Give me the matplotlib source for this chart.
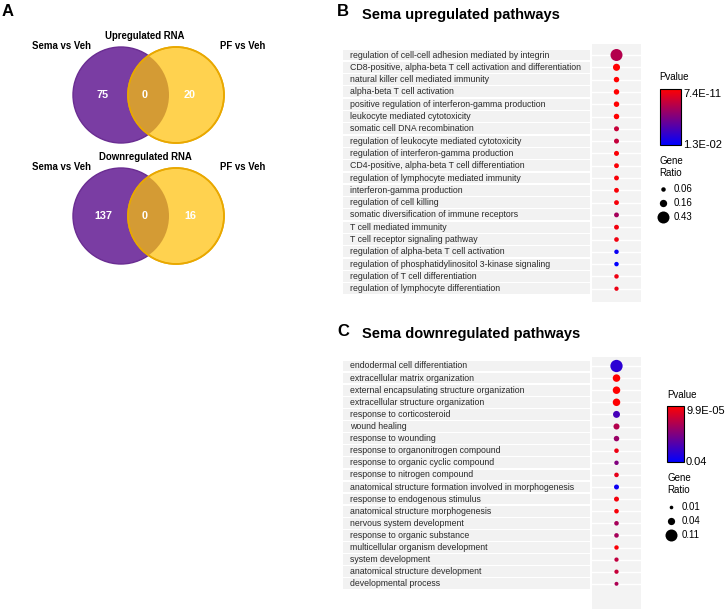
import matplotlib
matplotlib.use('Agg')
import matplotlib.pyplot as plt
from matplotlib.patches import Circle
from matplotlib.colors import LinearSegmentedColormap, Normalize
import numpy as np

plt.rcParams['font.family'] = ['Liberation Sans', 'DejaVu Sans']

# ---- data ----
venn_sets = ['Sema vs Veh', 'PF vs Veh']
up_counts = [75, 0, 20]
down_counts = [137, 0, 16]

up_terms = ['regulation of cell-cell adhesion mediated by integrin',
            'CD8-positive, alpha-beta T cell activation and differentiation',
            'natural killer cell mediated immunity',
            'alpha-beta T cell activation',
            'positive regulation of interferon-gamma production',
            'leukocyte mediated cytotoxicity',
            'somatic cell DNA recombination',
            'regulation of leukocyte mediated cytotoxicity',
            'regulation of interferon-gamma production',
            'CD4-positive, alpha-beta T cell differentiation',
            'regulation of lymphocyte mediated immunity',
            'interferon-gamma production',
            'regulation of cell killing',
            'somatic diversification of immune receptors',
            'T cell mediated immunity',
            'T cell receptor signaling pathway',
            'regulation of alpha-beta T cell activation',
            'regulation of phosphatidylinositol 3-kinase signaling',
            'regulation of T cell differentiation',
            'regulation of lymphocyte differentiation']
up_pvalue = [0.0039, 7.4e-11, 1e-5, 2e-5, 3e-5, 5e-5, 0.0029, 0.0030, 3e-4, 3e-4,
             4e-4, 4e-4, 5e-4, 0.0046, 7e-4, 8e-4, 0.0124, 0.0130, 9e-4, 1e-3]
up_ratio = [0.43, 0.15, 0.09, 0.09, 0.09, 0.09, 0.075, 0.075, 0.075, 0.07,
            0.07, 0.07, 0.07, 0.07, 0.07, 0.065, 0.06, 0.06, 0.06, 0.055]
up_pv_range = [7.4e-11, 1.3e-2]
up_pv_labels = ['7.4E-11', '1.3E-02']
up_size_legend = [0.06, 0.16, 0.43]

down_terms = ['endodermal cell differentiation',
              'extracellular matrix organization',
              'external encapsulating structure organization',
              'extracellular structure organization',
              'response to corticosteroid',
              'wound healing',
              'response to wounding',
              'response to organonitrogen compound',
              'response to organic cyclic compound',
              'response to nitrogen compound',
              'anatomical structure formation involved in morphogenesis',
              'response to endogenous stimulus',
              'anatomical structure morphogenesis',
              'nervous system development',
              'response to organic substance',
              'multicellular organism development',
              'system development',
              'anatomical structure development',
              'developmental process']
down_pvalue = [0.033, 9.9e-5, 2e-4, 3e-4, 0.029, 0.012, 0.016, 0.003, 0.020, 0.004,
               0.038, 0.002, 0.0015, 0.014, 0.014, 0.001, 0.010, 0.009, 0.013]
down_ratio = [0.115, 0.043, 0.043, 0.043, 0.037, 0.028, 0.023, 0.016, 0.015, 0.016,
              0.019, 0.019, 0.016, 0.016, 0.016, 0.015, 0.014, 0.014, 0.012]
down_pv_range = [9.9e-5, 0.04]
down_pv_labels = ['9.9E-05', '0.04']
down_size_legend = [0.01, 0.04, 0.11]

# ---- figure ----
W, H = 728, 609
fig = plt.figure(figsize=(W/100, H/100), dpi=100)

def px_axes(x0, y0, x1, y1):
	return fig.add_axes([x0/W, 1-y1/H, (x1-x0)/W, (y1-y0)/H])

ov = px_axes(0, 0, W, H)
ov.set_xlim(0, W)
ov.set_ylim(H, 0)
ov.axis('off')
ov.set_zorder(5)

cmap = LinearSegmentedColormap.from_list('pv', ['#FF0000', '#0000FF'])
MAXDOT = (12*0.72)**2

# ---- panel A: venns ----
ov.text(2, 11, 'A', fontsize=12, fontweight='bold', va='center')
purple = '#7A3DA3'
yellow = '#FFD24F'
for counts, title, cy, ty in [(up_counts, 'Upregulated RNA', 95, 36),
                              (down_counts, 'Downregulated RNA', 216, 157)]:
	c1 = Circle((121, cy), 48, fc=purple, ec='#6A2D92', lw=1.0)
	c2 = Circle((176, cy), 48, fc=yellow, ec='#E9A800', lw=1.2)
	ov.add_patch(c1)
	ov.add_patch(c2)
	lens = Circle((176, cy), 48, fc='#D49B34', ec='none')
	ov.add_patch(lens)
	lens.set_clip_path(Circle((121, cy), 48, transform=ov.transData))
	ov.add_patch(Circle((176, cy), 48, fc='none', ec='#E9A800', lw=1.2))
	ov.text(145, ty, title, fontsize=6.9, fontweight='bold', ha='center', va='center')
	ov.text(61, ty+10, venn_sets[0], fontsize=6.9, fontweight='bold', ha='center', va='center')
	ov.text(243, ty+10, venn_sets[1], fontsize=6.9, fontweight='bold', ha='center', va='center')
	for xx, n in zip([103, 145, 190], counts):
		ov.text(xx, cy, str(n), fontsize=7.8, fontweight='bold', color='white', ha='center', va='center')

# ---- dot plots ----
def dot_panel(letter, title, ly, terms, pv, ratio, prange, plabels, slegend,
              top, row0, step, bottom, leg):
	n = len(terms)
	ymin = -(row0-top)/step
	ymax = (n-1) + (bottom-(row0+step*(n-1)))/step
	ov.text(337, ly, letter, fontsize=12, fontweight='bold', va='center')
	ov.text(362, ly+3, title, fontsize=10.5, fontweight='bold', va='center')

	lab = px_axes(343, top, 590, bottom)
	lab.barh(np.arange(n), 1, height=0.88, left=0, color='#F2F2F2')
	lab.set_xlim(0, 1)
	lab.set_ylim(ymax, ymin)
	lab.axis('off')
	for i, t in enumerate(terms):
		lab.text(0.028, i, t, fontsize=6.3, color='#2A2A2A', va='center')

	dax = px_axes(592, top, 641, bottom)
	dax.set_facecolor('#F3F3F3')
	for s in dax.spines.values(): s.set_visible(False)
	dax.set_xticks([])
	dax.set_yticks(np.arange(n))
	dax.set_yticklabels([])
	dax.tick_params(length=0)
	dax.grid(axis='y', color='white', lw=1.0)
	dax.set_axisbelow(True)
	norm = Normalize(prange[0], prange[1])
	sc = dax.scatter(np.zeros(n), np.arange(n), s=np.array(ratio)/slegend[-1]*MAXDOT,
	                 c=pv, cmap=cmap, norm=norm, linewidths=0, zorder=3)
	dax.set_xlim(-1, 1)
	dax.set_ylim(ymax, ymin)

	lx, pty, cb0, cb1, cbx0, cbx1, gy, sy = leg
	ov.text(lx, pty, 'Pvalue', fontsize=7, va='center')
	cax = px_axes(cbx0, cb0, cbx1, cb1)
	cb = fig.colorbar(sc, cax=cax)
	cax.invert_yaxis()
	cb.set_ticks(prange)
	cb.set_ticklabels(plabels)
	cax.tick_params(length=0, labelsize=8, pad=1.5)
	tl = cax.get_yticklabels()
	tl[0].set_va('top')
	tl[1].set_va('center')
	cb.outline.set_linewidth(0.8)
	ov.text(lx, gy, 'Gene\nRatio', fontsize=7, va='center', linespacing=1.3)
	for k, v in enumerate(slegend):
		ov.scatter(lx+4, sy+14*k, s=v/slegend[-1]*MAXDOT, color='black', linewidths=0)
		ov.text(lx+15, sy+14*k, '%g' % v, fontsize=7, va='center')

dot_panel('B', 'Sema upregulated pathways', 12, up_terms, up_pvalue, up_ratio,
          up_pv_range, up_pv_labels, up_size_legend,
          44, 55, 12.3, 302, (659, 77, 89, 145, 660, 681, 167, 189))
dot_panel('C', 'Sema downregulated pathways', 331, down_terms, down_pvalue, down_ratio,
          down_pv_range, down_pv_labels, down_size_legend,
          357, 366, 12.1, 609, (667, 395, 406, 462, 667, 684, 484, 507))

plt.savefig('out.png', dpi=100)
